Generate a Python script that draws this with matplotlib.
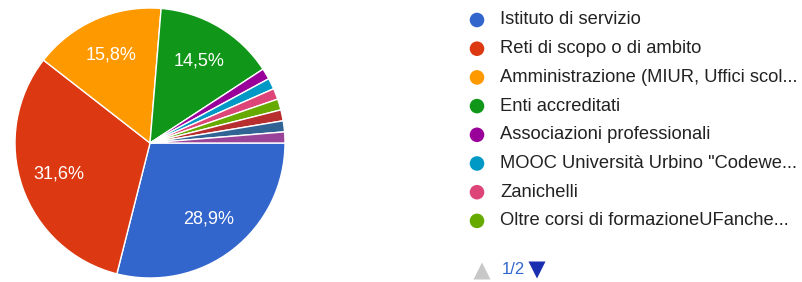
#!/usr/bin/env python3
"""Pie chart of training providers, Google Forms style."""

import matplotlib
matplotlib.use('Agg')
import matplotlib.pyplot as plt

plt.rcParams['font.family'] = ['Liberation Sans', 'DejaVu Sans']

# responses per provider (76 in total)
labels = [
    'Istituto di servizio',
    'Reti di scopo o di ambito',
    'Amministrazione (MIUR, Uffici scol...',
    'Enti accreditati',
    'Associazioni professionali',
    'MOOC Università Urbino "Codewe...',
    'Zanichelli',
    'Oltre corsi di formazioneUFanche...',
    'Altro (pag. 2) a',
    'Altro (pag. 2) b',
    'Altro (pag. 2) c',
]
counts = [22, 24, 12, 11, 1, 1, 1, 1, 1, 1, 1]
colors = ['#3366cc', '#dc3912', '#ff9900', '#109618', '#990099', '#0099c6',
          '#dd4477', '#66aa00', '#b82e2e', '#316395', '#994499']
legend_page = 8   # entries shown on page 1/2

W, H = 802, 282
fig = plt.figure(figsize=(W / 100, H / 100), dpi=100)

# pie: centre (150,143) px, radius 135 px
cx, cy, r = 150, 143, 135
ax = fig.add_axes([(cx - r) / W, (H - cy - r) / H, 2 * r / W, 2 * r / H])


def fmt(p):
    return f'{p:.1f}%'.replace('.', ',') if p > 5 else ''


wedges, texts, autotexts = ax.pie(
    counts, colors=colors, startangle=0, counterclock=False,
    autopct=fmt, pctdistance=0.71, radius=1,
    wedgeprops=dict(edgecolor='white', linewidth=1),
    textprops=dict(color='white', fontsize=13))
ax.set_xlim(-1, 1)
ax.set_ylim(-1, 1)
ax.set_aspect('equal')
ax.axis('off')

# legend drawn in pixel coordinates
lax = fig.add_axes([0, 0, 1, 1])
lax.set_xlim(0, W)
lax.set_ylim(H, 0)
lax.axis('off')
y0, dy = 20, 28.7
for i in range(legend_page):
    y = y0 + i * dy
    lax.scatter([477], [y], s=110, color=colors[i], edgecolors='none')
    lax.text(500, y, labels[i], fontsize=13.2, color='#222222',
             va='center', ha='left')

# pager
lax.scatter([482], [271], marker='^', s=150, color='#c8c8c8', edgecolors='none')
lax.text(502, 270, '1/2', fontsize=12, color='#3366cc', va='center', ha='left')
lax.scatter([537], [270], marker='v', s=150, color='#1a2fb0', edgecolors='none')

plt.savefig('out.png', dpi=100)
plt.close()
